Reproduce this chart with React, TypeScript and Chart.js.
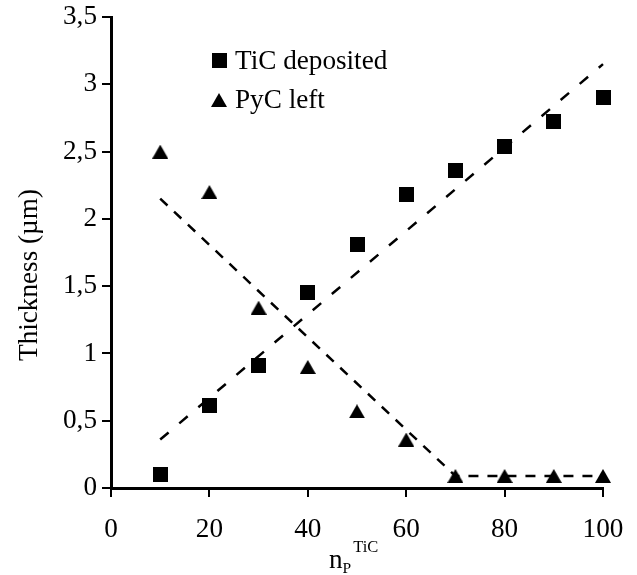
import React, { useEffect, useRef } from "react";
import { Chart, registerables } from "chart.js";

Chart.register(...registerables);

const xValues = [10, 20, 30, 40, 50, 60, 70, 80, 90, 100];
const ticDeposited = [0.1, 0.61, 0.91, 1.45, 1.81, 2.18, 2.36, 2.54, 2.72, 2.9];
const pycLeft = [2.5, 2.2, 1.34, 0.9, 0.57, 0.36, 0.09, 0.09, 0.09, 0.09];
const ticTrendX = [10, 100];
const ticTrendY = [0.36, 3.15];
const pycTrendX = [10, 70, 100];
const pycTrendY = [2.15, 0.09, 0.09];
const legendLabels = ["TiC deposited", "PyC left"];
const yTitle = "Thickness (µm)";
const xTitleMain = "n";
const xTitleSub = "P";
const xTitleSup = "TiC";

const FONT = "'Liberation Serif', 'Times New Roman', serif";
const FS = 27.2;

function makeSquare(size: number): HTMLCanvasElement {
  const c = document.createElement("canvas");
  c.width = size;
  c.height = size;
  const ctx = c.getContext("2d")!;
  ctx.fillStyle = "#000";
  ctx.fillRect(0, 0, size, size);
  return c;
}

function makeTriangle(w: number, h: number): HTMLCanvasElement {
  const c = document.createElement("canvas");
  c.width = w;
  c.height = h;
  const ctx = c.getContext("2d")!;
  ctx.fillStyle = "#000";
  ctx.beginPath();
  ctx.moveTo(w / 2, 0);
  ctx.lineTo(w, h);
  ctx.lineTo(0, h);
  ctx.closePath();
  ctx.fill();
  return c;
}

export default function App() {
  const ref = useRef<HTMLCanvasElement | null>(null);

  useEffect(() => {
    const canvas = ref.current;
    if (!canvas) return;
    const square = makeSquare(15);
    const triangle = makeTriangle(16, 14);

    const textPlugin = {
      id: "textPlugin",
      afterDraw(chart: any) {
        const ctx = chart.ctx as CanvasRenderingContext2D;
        ctx.save();
        ctx.fillStyle = "#000";
        // legend
        ctx.drawImage(square, 212, 53);
        ctx.drawImage(triangle, 211, 93);
        ctx.font = `${FS}px ${FONT}`;
        ctx.textAlign = "left";
        ctx.textBaseline = "alphabetic";
        ctx.fillText(legendLabels[0], 235, 68.5);
        ctx.fillText(legendLabels[1], 235, 108);
        // y title
        ctx.save();
        ctx.translate(36.5, 275);
        ctx.rotate(-Math.PI / 2);
        ctx.textAlign = "center";
        ctx.fillText(yTitle, 0, 0);
        ctx.restore();
        // x title
        ctx.textAlign = "left";
        ctx.font = `${FS}px ${FONT}`;
        const nW = ctx.measureText(xTitleMain).width;
        const x0 = 329;
        ctx.fillText(xTitleMain, x0, 568);
        ctx.font = `15.5px ${FONT}`;
        ctx.fillText(xTitleSub, x0 + nW, 573);
        const pW = ctx.measureText(xTitleSub).width;
        ctx.font = `16.5px ${FONT}`;
        ctx.fillText(xTitleSup, x0 + nW + pW + 2, 552);
        ctx.restore();
      },
    };

    const chart = new Chart(canvas, {
      type: "scatter",
      data: {
        datasets: [
          {
            label: legendLabels[0],
            data: xValues.map((x, i) => ({ x, y: ticDeposited[i] })),
            pointStyle: square as any,
            pointRadius: 8,
            backgroundColor: "#000",
            borderColor: "#000",
            showLine: false,
            clip: false as any,
          },
          {
            label: legendLabels[1],
            data: xValues.map((x, i) => ({ x, y: pycLeft[i] })),
            pointStyle: triangle as any,
            pointRadius: 8,
            backgroundColor: "#000",
            borderColor: "#000",
            showLine: false,
            clip: false as any,
          },
          {
            label: "TiC trend",
            data: ticTrendX.map((x, i) => ({ x, y: ticTrendY[i] })),
            showLine: true,
            pointRadius: 0,
            borderColor: "#000",
            borderWidth: 2.5,
            borderDash: [11, 14],
            clip: false as any,
          },
          {
            label: "PyC trend",
            data: pycTrendX.map((x, i) => ({ x, y: pycTrendY[i] })),
            showLine: true,
            pointRadius: 0,
            borderColor: "#000",
            borderWidth: 2.5,
            borderDash: [10, 9],
            clip: false as any,
          },
        ],
      },
      options: {
        responsive: false,
        animation: false,
        devicePixelRatio: 1,
        layout: { padding: { top: 17, right: 34, left: 0, bottom: 0 } },
        plugins: {
          legend: { display: false },
          tooltip: { enabled: false },
          title: { display: false },
        },
        scales: {
          x: {
            type: "linear",
            min: 0,
            max: 100,
            ticks: {
              stepSize: 20,
              color: "#000",
              padding: 17,
              font: { family: FONT, size: FS },
            },
            grid: {
              drawOnChartArea: false,
              drawTicks: true,
              tickLength: 9,
              color: "#000",
              lineWidth: 2,
            },
            border: { display: true, color: "#000", width: 3 },
            afterFit: (s: any) => {
              s.height = 87;
              s.paddingRight = 0;
              s.paddingLeft = 0;
            },
          },
          y: {
            type: "linear",
            min: 0,
            max: 3.5,
            ticks: {
              stepSize: 0.5,
              color: "#000",
              padding: 5,
              font: { family: FONT, size: FS },
              callback: (v: any) => String(v).replace(".", ","),
            },
            grid: {
              drawOnChartArea: false,
              drawTicks: true,
              tickLength: 9,
              color: "#000",
              lineWidth: 2,
            },
            border: { display: true, color: "#000", width: 3 },
            afterFit: (s: any) => {
              s.width = 111;
              s.paddingTop = 0;
              s.paddingBottom = 0;
            },
          },
        },
      },
      plugins: [textPlugin],
    });
    return () => chart.destroy();
  }, []);

  return (
    <div style={{ position: "absolute", left: 0, top: 0, width: 637, height: 575, background: "#fff" }}>
      <canvas ref={ref} width={637} height={575} />
    </div>
  );
}
